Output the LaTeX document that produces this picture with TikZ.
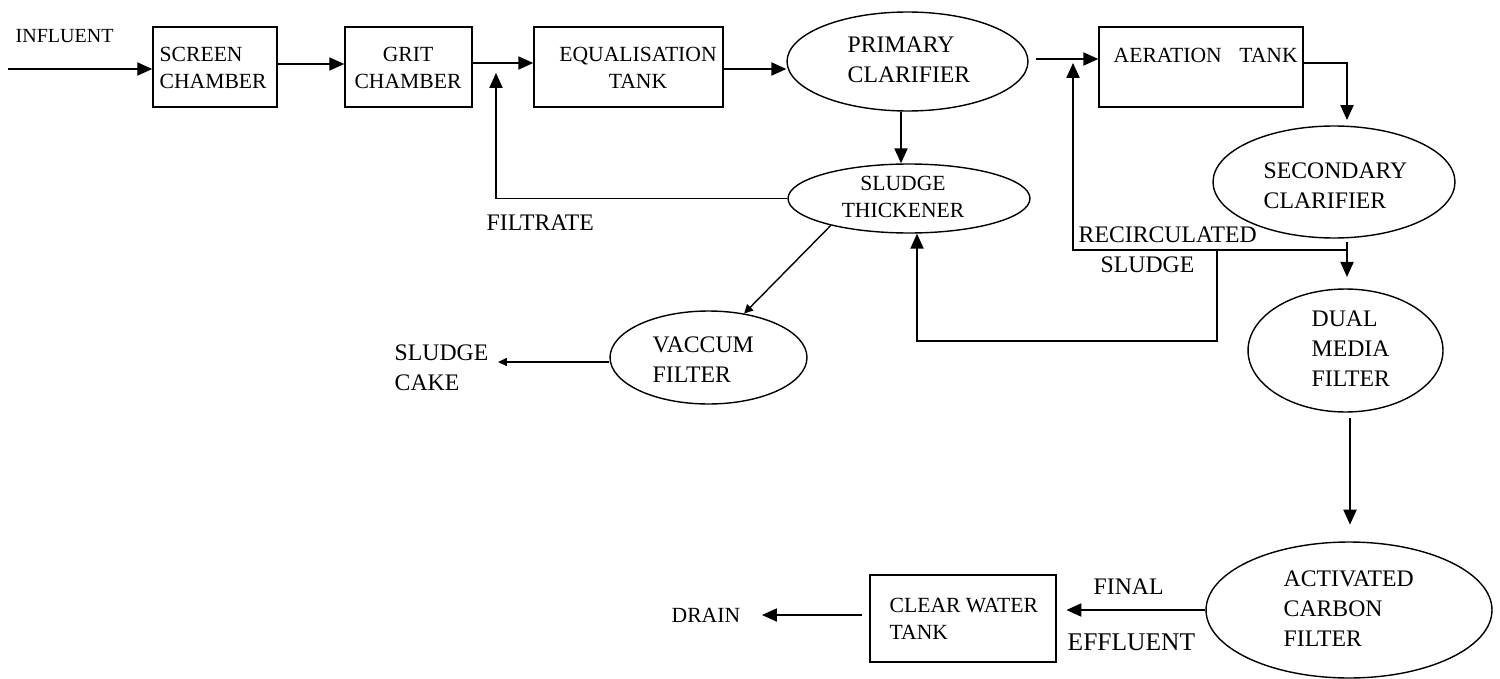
\documentclass[tikz,border=0pt]{standalone}
\usepackage{fontspec}
\setmainfont{Liberation Serif}
\usepackage{tikz}
\usetikzlibrary{arrows.meta}
\usetikzlibrary{shapes.geometric}

\begin{document}
\begin{tikzpicture}[x=0.02cm,y=-0.02cm,line width=0.8pt,
  >={Triangle[length=8.5pt,width=7.5pt]},
  box/.style={draw,line width=0.9pt,inner sep=0pt},
  tank/.style={draw,ellipse,inner sep=0pt},
  big/.style={inner sep=0pt,align=left,font=\fontsize{13.5}{17}\selectfont},
  small/.style={inner sep=0pt,align=left,font=\fontsize{12.3}{15.3}\selectfont}]
  \useasboundingbox (0,0) rectangle (1500,679);

  % boxes
  \node[box,minimum width=2.48cm,minimum height=1.6cm] (scr) at (215,67) {};
  \node[box,minimum width=2.54cm,minimum height=1.6cm] (grit) at (408.5,67) {};
  \node[box,minimum width=3.78cm,minimum height=1.6cm] (eq) at (628.5,67) {};
  \node[box,minimum width=4.08cm,minimum height=1.6cm] (aer) at (1201,67) {};
  \node[box,minimum width=3.72cm,minimum height=1.74cm] (clr) at (963,618.5) {};

  % tanks
  \node[tank,minimum width=4.82cm,minimum height=1.98cm] (pc) at (907.5,61.5) {};
  \node[tank,minimum width=4.84cm,minimum height=1.38cm] (th) at (909,198.5) {};
  \node[tank,minimum width=4.84cm,minimum height=2.24cm] (sec) at (1334,182) {};
  \node[tank,minimum width=3.9cm,minimum height=2.46cm] (dual) at (1345.5,350.5) {};
  \node[tank,minimum width=3.94cm,minimum height=1.86cm] (vac) at (708.5,357.5) {};
  \node[tank,minimum width=5.72cm,minimum height=2.72cm] (act) at (1349,610) {};

  % texts
  \node[inner sep=0pt,anchor=west,font=\fontsize{11.4}{14}\selectfont] (infT) at (15,36) {INFLUENT};
  \node[small,anchor=west] (scrT) at (159,68) {SCREEN\\CHAMBER};
  \node[small,align=center] (gritT) at (408,68) {GRIT\\CHAMBER};
  \node[small,align=center] (eqT) at (638,68) {EQUALISATION\\TANK};
  \node[big,anchor=west] (pcT) at (847,60) {PRIMARY\\CLARIFIER};
  \node[small,anchor=west] (aerT) at (1113,55) {AERATION\hspace{10pt}TANK};
  \node[big,anchor=west] (secT) at (1263,186) {SECONDARY\\CLARIFIER};
  \node[small,align=center] (thT) at (903,197) {SLUDGE\\THICKENER};
  \node[big,anchor=west] (filT) at (486,223) {FILTRATE};
  \node[big,anchor=west] (cakeT) at (394,368) {SLUDGE\\CAKE};
  \node[big,anchor=west] (vacT) at (652,360) {VACCUM\\FILTER};
  \node[big,anchor=west] (recT) at (1078,235) {RECIRCULATED};
  \node[big,anchor=west] (sludT) at (1100,265) {SLUDGE};
  \node[big,anchor=west] (dualT) at (1311,349) {DUAL\\MEDIA\\FILTER};
  \node[big,anchor=west] (actT) at (1283,609) {ACTIVATED\\CARBON\\FILTER};
  \node[big,anchor=west] (finT) at (1093,587) {FINAL};
  \node[big,anchor=west,font=\fontsize{14.5}{17}\selectfont] (effT) at (1067,642) {EFFLUENT};
  \node[small,anchor=west] (clrT) at (889,619) {CLEAR WATER\\TANK};
  \node[small,anchor=west] (drainT) at (671,615) {DRAIN};

  % flow
  \coordinate (inflow) at (8,69);
  \coordinate (col) at (1347,0);
  \coordinate (filt) at (496,73);
  \coordinate (rj) at (1347,250);
  \coordinate (rtip) at (1073,63);
  \coordinate (rk) at (1217,250);
  \coordinate (rb) at (1217,341);
  \coordinate (cake) at (498,362);
  \coordinate (drain) at (762,615);

  \draw[->] (inflow) -- (inflow -| scr.west);
  \draw[->] (scr.east |- 0,64) -- (grit.west |- 0,64);
  \draw[->] (grit.east |- 0,63) -- (eq.west |- 0,63);
  \draw[->] (eq.east |- 0,69) -- (pc.west |- 0,69);
  \draw[->] (th.west) -| (filt);
  \draw[->] (pc.south -| 901,0) -- (th.north -| 901,0);
  \draw[->,shorten <=4pt] (pc.east |- 0,59) -- (aer.west |- 0,59);
  \draw[->,shorten >=3pt] (aer.east |- 0,63) -| (col |- sec.north);
  \draw[->,shorten <=2pt,shorten >=6.5pt] (col |- sec.south) -- (col |- dual.north);
  \draw[->] (rj) -| (rtip);
  \draw[->] (rk) -- (rb) -| (th.south -| 917,0);
  \draw[->,>={Triangle[length=5pt,width=5pt]}] (th.199) -- (vac.51);
  \draw[->,>={Triangle[length=5pt,width=4.5pt]}] (vac.west |- cake) -- (cake);
  \draw[->,shorten <=3pt,shorten >=9.5pt] (dual.south -| 1350,0) -- (act.north -| 1350,0);
  \draw[->,shorten >=5.5pt] (act.west) -- (clr.east |- act.west);
  \draw[->,shorten <=4pt] (clr.west |- drain) -- (drain);

\end{tikzpicture}
\end{document}
